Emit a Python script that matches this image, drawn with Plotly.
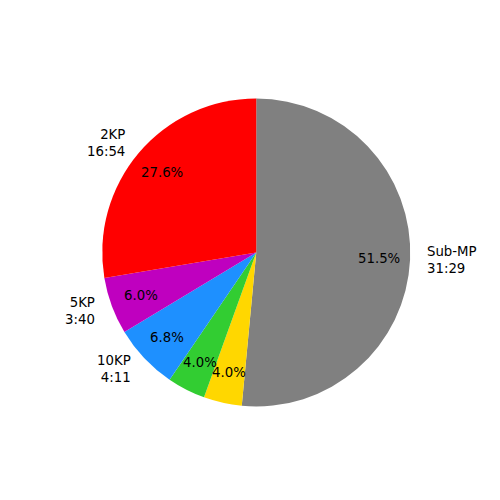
import math
import plotly.graph_objects as go

# Data (seconds), order counterclockwise from 12 o'clock
labels = ["2KP\n16:54", "5KP\n3:40", "10KP\n4:11", "", "", "Sub-MP\n31:29"]
seconds = [1014, 220, 251, 147, 147, 1889]
colors = ["#FF0000", "#BF00BF", "#1E90FF", "#32CD32", "#FFD700", "#808080"]

# the page body has an 8px margin, so the figure is 492px and shifted
OFF = 8
W = H = 500 - OFF
cx_px, cy_px = 256.25 - OFF, 252.5 - OFF   # centre in figure pixels
R = 154.0
PCT_DIST, LABEL_DIST = 0.8, 1.1
font = dict(family="DejaVu Sans", size=13.3, color="black")

# plotly draws clockwise from 12 o'clock -> feed the slices in reverse order
fig = go.Figure(go.Pie(
    values=seconds[::-1],
    marker=dict(colors=colors[::-1], line=dict(width=0)),
    sort=False,
    direction="clockwise",
    rotation=0,
    textinfo="none",
    hoverinfo="none",
    showlegend=False,
    domain=dict(x=[(cx_px - R) / W, (cx_px + R) / W],
                y=[(H - cy_px - R) / H, (H - cy_px + R) / H]),
))

total = sum(seconds)
cum = 0.0
annotations = []
for lab, v in zip(labels, seconds):
    frac = v / total
    mid = math.radians(90 + 360 * (cum + frac / 2))
    cum += frac
    px = cx_px + PCT_DIST * R * math.cos(mid)
    py = cy_px - PCT_DIST * R * math.sin(mid)
    annotations.append(dict(x=px / W, y=1 - py / H, xref="paper", yref="paper",
                            text=f"{frac * 100:.1f}%", showarrow=False,
                            xanchor="center", yanchor="middle", font=font))
    if lab:
        lx = cx_px + LABEL_DIST * R * math.cos(mid)
        ly = cy_px - LABEL_DIST * R * math.sin(mid)
        side = "left" if math.cos(mid) > 0 else "right"
        annotations.append(dict(x=lx / W, y=1 - ly / H, xref="paper", yref="paper",
                                text=lab.replace("\n", "<br>"), showarrow=False,
                                xanchor=side, yanchor="middle", align=side, font=font))

fig.update_layout(width=W, height=H, margin=dict(l=0, r=0, t=0, b=0),
                  paper_bgcolor="white", plot_bgcolor="white",
                  annotations=annotations)
fig.write_html("out.html")
